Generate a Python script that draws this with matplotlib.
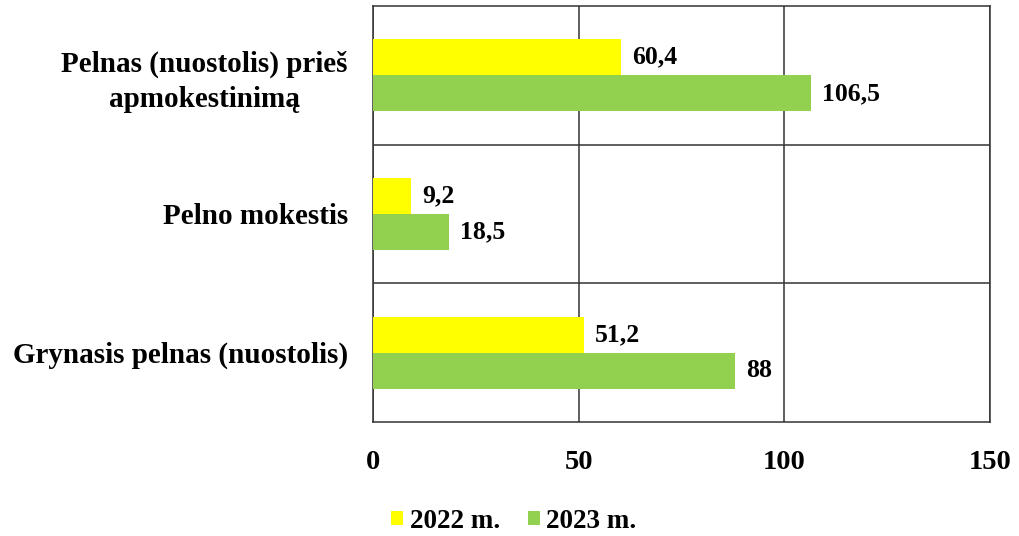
import matplotlib
matplotlib.use("Agg")
import matplotlib.pyplot as plt
import numpy as np

plt.rcParams['font.family'] = ['Liberation Serif', 'DejaVu Serif']
plt.rcParams['font.weight'] = 'bold'

categories = ['Pelnas (nuostolis) prieš\napmokestinimą', 'Pelno mokestis',
              'Grynasis pelnas (nuostolis)']
values_2022 = [60.4, 9.2, 51.2]
values_2023 = [106.5, 18.5, 88]
labels_2022 = ['60,4', '9,2', '51,2']
labels_2023 = ['106,5', '18,5', '88']
series_names = ['2022 m.', '2023 m.']
x_ticks = [0, 50, 100, 150]

c22 = '#FFFF00'
c23 = '#92D050'

fig = plt.figure(figsize=(10.2, 5.36), dpi=100)
ax = fig.add_axes([373 / 1020, 1 - 422 / 536, 617 / 1020, 416 / 536])

y = np.arange(len(categories))
h = 0.26
b1 = ax.barh(y - h / 2, values_2022, height=h, color=c22, label=series_names[0], zorder=3)
b2 = ax.barh(y + h / 2, values_2023, height=h, color=c23, label=series_names[1], zorder=3)

ax.bar_label(b1, labels=labels_2022, padding=8, fontsize=18.5, fontweight='bold')
ax.bar_label(b2, labels=labels_2023, padding=8, fontsize=18.5, fontweight='bold')

ax.set_xlim(0, 150)
ax.set_ylim(2.5, -0.5)
ax.set_xticks(x_ticks)
ax.set_yticks(y)
ax.set_yticklabels(categories)
for lbl in ax.get_yticklabels():
    lbl.set_multialignment('center')
    lbl.set_linespacing(1.35)
ax.set_yticks([0.5, 1.5], minor=True)
ax.tick_params(axis='x', length=0, pad=20, labelsize=20.5)
ax.tick_params(axis='y', length=0, pad=18, labelsize=21)
ax.tick_params(axis='y', which='minor', length=0)

ax.grid(axis='x', which='major', color='#333333', lw=1.1, zorder=0)
ax.grid(axis='y', which='minor', color='#333333', lw=1.1, zorder=0)
for s in ax.spines.values():
    s.set_color('#333333')
    s.set_linewidth(1.1)

fig.legend(handles=[b1, b2], labels=series_names, loc='center',
           bbox_to_anchor=(514 / 1020, 1 - 521 / 536), ncol=2, frameon=False,
           fontsize=19.5, handlelength=0.45, handleheight=0.45, handletextpad=0.25,
           columnspacing=1.0)

fig.savefig('out.png', dpi=100)
